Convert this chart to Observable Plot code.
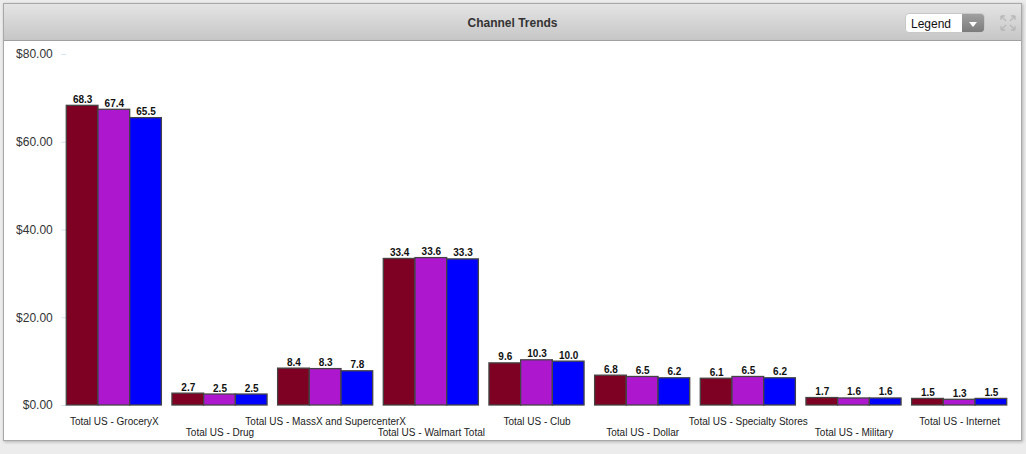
<!DOCTYPE html>
<html>
<head>
<meta charset="utf-8">
<script src="https://cdn.jsdelivr.net/npm/d3@7"></script>
<script src="https://cdn.jsdelivr.net/npm/@observablehq/plot@0.6"></script>
<style>
  html, body { margin: 0; padding: 0; background: #ececec; font-family: Arial, "Liberation Sans", sans-serif; }
  #panel { position: absolute; left: 3px; top: 3px; width: 1017px; height: 436px; background: #fff;
           border: 1px solid #a8a8a8; box-shadow: 1px 1px 3px rgba(0,0,0,0.25); overflow: hidden; }
  #header { position: relative; height: 36px; background: linear-gradient(#e4e4e4, #c6c6c6); border-bottom: 1px solid #a0a0a0; }
  #title { position: absolute; left: 0; right: 0; top: 12px; text-align: center; font-size: 12px; font-weight: bold; color: #333; }
  #legend { position: absolute; left: 901px; top: 9px; width: 80px; height: 20px; border-radius: 4px; background: #fff;
            border: 1px solid #c8c8c8; overflow: hidden; box-sizing: border-box; }
  #legend span { position: absolute; left: 5px; top: 3px; font-size: 12px; color: #111; }
  #legend .btn { position: absolute; right: 0; top: 0; width: 22px; height: 20px; background: linear-gradient(#a0a0a0, #777); }
  #legend .btn:after { content: ""; position: absolute; left: 7px; top: 8px; border-left: 4px solid transparent;
            border-right: 4px solid transparent; border-top: 5px solid #fff; }
  #expand { position: absolute; left: 996px; top: 11px; }
  #chart { position: absolute; left: 0; top: 37px; }
</style>
</head>
<body>
<div id="panel">
  <div id="header">
    <div id="title">Channel Trends</div>
    <div id="legend"><span>Legend</span><div class="btn"></div></div>
    <svg id="expand" width="16" height="16" viewBox="0 0 16 16" fill="none" stroke="#b8b8b8" stroke-width="1.3">
      <path d="M1 1 L6 6 M1 1 L1 5 M1 1 L5 1"/>
      <path d="M15 1 L10 6 M15 1 L15 5 M15 1 L11 1"/>
      <path d="M1 15 L6 10 M1 15 L1 11 M1 15 L5 15"/>
      <path d="M15 15 L10 10 M15 15 L15 11 M15 15 L11 15"/>
    </svg>
  </div>
  <div id="chart"></div>
</div>
<script>
const categories = [
  "Total US - GroceryX",
  "Total US - Drug",
  "Total US - MassX and SupercenterX",
  "Total US - Walmart Total",
  "Total US - Club",
  "Total US - Dollar",
  "Total US - Specialty Stores",
  "Total US - Military",
  "Total US - Internet"
];
const seriesNames = ["Period 1", "Period 2", "Period 3"];
const series1 = [68.3, 2.7, 8.4, 33.4, 9.6, 6.8, 6.1, 1.7, 1.5];
const series2 = [67.4, 2.5, 8.3, 33.6, 10.3, 6.5, 6.5, 1.6, 1.3];
const series3 = [65.5, 2.5, 7.8, 33.3, 10.0, 6.2, 6.2, 1.6, 1.5];
const colors = ["#7e0022", "#ad18cf", "#0000ff"];
const yTicks = [0, 20, 40, 60, 80];

const allSeries = [series1, series2, series3];
const data = [];
categories.forEach((c, i) => {
  seriesNames.forEach((s, j) => data.push({cat: c, series: s, value: allSeries[j][i]}));
});
const catIndex = new Map(categories.map((c, i) => [c, i]));

const chart = Plot.plot({
  width: 1017,
  height: 398,
  marginTop: 13,
  marginLeft: 57,
  marginRight: 9,
  marginBottom: 34,
  style: {fontFamily: "Arial, 'Liberation Sans', sans-serif", background: "transparent"},
  fx: {domain: categories, paddingInner: 0.1, paddingOuter: 0.05, round: false, axis: null, label: null},
  x: {domain: seriesNames, padding: 0, round: false, axis: null},
  y: {domain: [0, 80], axis: null},
  color: {domain: seriesNames, range: colors},
  marks: [
    Plot.axisY({ticks: yTicks, tickSize: 5, text: null, stroke: "#d6e4ef", label: null, facetAnchor: "left"}),
    Plot.text(yTicks, {y: d => d, text: d => "$" + d.toFixed(2), frameAnchor: "left", textAnchor: "end",
      dx: -14, fontSize: 12, fill: "#333", facetAnchor: "left"}),
    Plot.barY(data, {fx: "cat", x: "series", y: "value", fill: "series", stroke: "#444", strokeWidth: 1.3}),
    Plot.text(data, {fx: "cat", x: "series", y: "value", text: d => d.value.toFixed(1), lineAnchor: "bottom",
      dy: -3, fontWeight: "bold", fontSize: 10, fill: "#111"}),
    Plot.text(categories, {fx: d => d, text: d => d, frameAnchor: "bottom", dy: 19, fontSize: 10, fill: "#222",
      filter: d => catIndex.get(d) % 2 === 0}),
    Plot.text(categories, {fx: d => d, text: d => d, frameAnchor: "bottom", dy: 30, fontSize: 10, fill: "#222",
      filter: d => catIndex.get(d) % 2 === 1})
  ]
});
document.getElementById("chart").appendChild(chart);
</script>
</body>
</html>
